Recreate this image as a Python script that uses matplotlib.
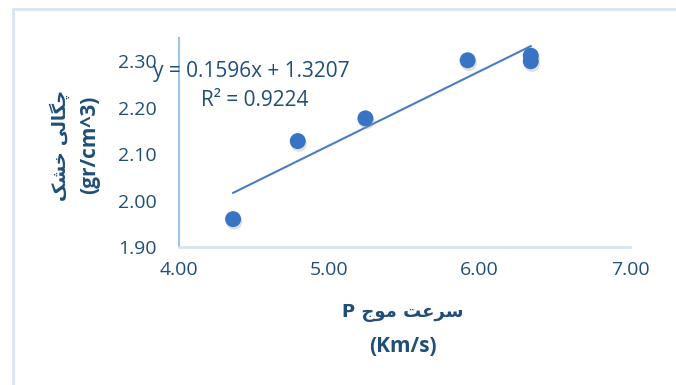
import numpy as np
import matplotlib
matplotlib.use("Agg")
import matplotlib.pyplot as plt
import matplotlib.patheffects as pe

# ---- data ----
velocity = [4.36, 4.79, 5.24, 5.92, 6.34, 6.34]
density = [1.96, 2.128, 2.177, 2.302, 2.312, 2.300]
slope = 0.1596
intercept = 1.3207
r2 = 0.9224
x_ticks = [4.00, 5.00, 6.00, 7.00]
y_ticks = [1.90, 2.00, 2.10, 2.20, 2.30]
x_label_fa = "سرعت موج P"
x_label_unit = "(Km/s)"
y_label_fa = "چگالی خشک"
y_label_unit = "(gr/cm^3)"

# ---- minimal Arabic/Persian shaping (matplotlib has no shaping) ----
FORMS = {  # isolated, final, initial, medial
    "س": ("\uFEB1", "\uFEB2", "\uFEB3", "\uFEB4"),
    "ر": ("\uFEAD", "\uFEAE", None, None),
    "ع": ("\uFEC9", "\uFECA", "\uFECB", "\uFECC"),
    "ت": ("\uFE95", "\uFE96", "\uFE97", "\uFE98"),
    "م": ("\uFEE1", "\uFEE2", "\uFEE3", "\uFEE4"),
    "و": ("\uFEED", "\uFEEE", None, None),
    "ج": ("\uFE9D", "\uFE9E", "\uFE9F", "\uFEA0"),
    "چ": ("\uFB7A", "\uFB7B", "\uFB7C", "\uFB7D"),
    "گ": ("\uFB92", "\uFB93", "\uFB94", "\uFB95"),
    "ا": ("\uFE8D", "\uFE8E", None, None),
    "ل": ("\uFEDD", "\uFEDE", "\uFEDF", "\uFEE0"),
    "ی": ("\uFBFC", "\uFBFD", "\uFBFE", "\uFBFF"),
    "خ": ("\uFEA5", "\uFEA6", "\uFEA7", "\uFEA8"),
    "ش": ("\uFEB5", "\uFEB6", "\uFEB7", "\uFEB8"),
    "ک": ("\uFB8E", "\uFB8F", "\uFB90", "\uFB91"),
}


def shape_word(w):
    if not any(c in FORMS for c in w):
        return w
    out = []
    for i, c in enumerate(w):
        f = FORMS[c]
        prev_joins = i > 0 and FORMS[w[i - 1]][2] is not None
        next_exists = i < len(w) - 1
        can_left = f[2] is not None and next_exists
        if prev_joins and can_left:
            out.append(f[3])
        elif prev_joins:
            out.append(f[1])
        elif can_left:
            out.append(f[2])
        else:
            out.append(f[0])
    return "".join(reversed(out))


def shape_rtl(s):
    words = s.split(" ")
    return " ".join(shape_word(w) for w in reversed(words))


W, H = 676, 385
fig = plt.figure(figsize=(W / 100, H / 100), dpi=100)
fig.patch.set_facecolor("white")

# outer chart frame
frame = plt.Rectangle((13 / W, -0.05), 1.0, (H - 9) / H + 0.05, transform=fig.transFigure,
                      fill=False, edgecolor="#D9E3F3", linewidth=2.0)
fig.add_artist(frame)

tick_color = "#1F4E79"
num_font = "Open Sans"

ax = fig.add_axes([179 / W, (H - 247) / H, (630 - 179) / W, (247 - 38) / H])
ax.set_xlim(4.0, 7.0)
ax.set_ylim(1.90, 2.35)
ax.set_xticks(x_ticks)
ax.set_yticks(y_ticks)
ax.set_xticklabels([f"{v:.2f}" for v in x_ticks], fontsize=14, color=tick_color, family=num_font)
ax.set_yticklabels([f"{v:.2f}" for v in y_ticks], fontsize=14, color=tick_color, family=num_font)
ax.tick_params(axis="y", length=0, pad=16)
ax.tick_params(axis="x", length=0, pad=10)
for s in ["top", "right"]:
    ax.spines[s].set_visible(False)
ax.spines["left"].set_color("#9DC3E6")
ax.spines["bottom"].set_color("#D6E4F5")
ax.spines["left"].set_linewidth(1.5)
ax.spines["bottom"].set_linewidth(2.0)

# trendline
xs = np.array([min(velocity), max(velocity)])
ax.plot(xs, slope * xs + intercept, color="#4A7CC4", linewidth=1.5, zorder=2, clip_on=False)

# points with soft shadow
ax.plot(velocity, density, "o", color="#3873C4", markersize=11.5, markeredgewidth=0,
        zorder=3, clip_on=False,
        path_effects=[pe.SimplePatchShadow(offset=(0.8, -2.0), shadow_rgbFace="#9A9A9A", alpha=0.3),
                      pe.Normal()])

fig.text(153 / W, (H - 72) / H, f"y = {slope}x + {intercept}",
         fontsize=15, color=tick_color, family=num_font, va="center", ha="left")
fig.text(255 / W, (H - 100) / H, f"R² = {r2}",
         fontsize=15, color=tick_color, family=num_font, va="center", ha="center")

# axis titles
fig.text(403 / W, (H - 313) / H, shape_rtl(x_label_fa), fontsize=13, fontweight="bold",
         color=tick_color, family=["DejaVu Sans"], ha="center", va="center")
fig.text(403 / W, (H - 346) / H, x_label_unit, fontsize=15, fontweight="bold",
         color=tick_color, family=num_font, ha="center", va="center")
fig.text(60 / W, (H - 145) / H, shape_rtl(y_label_fa), fontsize=13, fontweight="bold",
         color=tick_color, family=["DejaVu Sans"], ha="center", va="center", rotation=90)
fig.text(90 / W, (H - 145) / H, y_label_unit, fontsize=15, fontweight="bold",
         color=tick_color, family=num_font, ha="center", va="center", rotation=90)

fig.savefig("out.png", dpi=100)
